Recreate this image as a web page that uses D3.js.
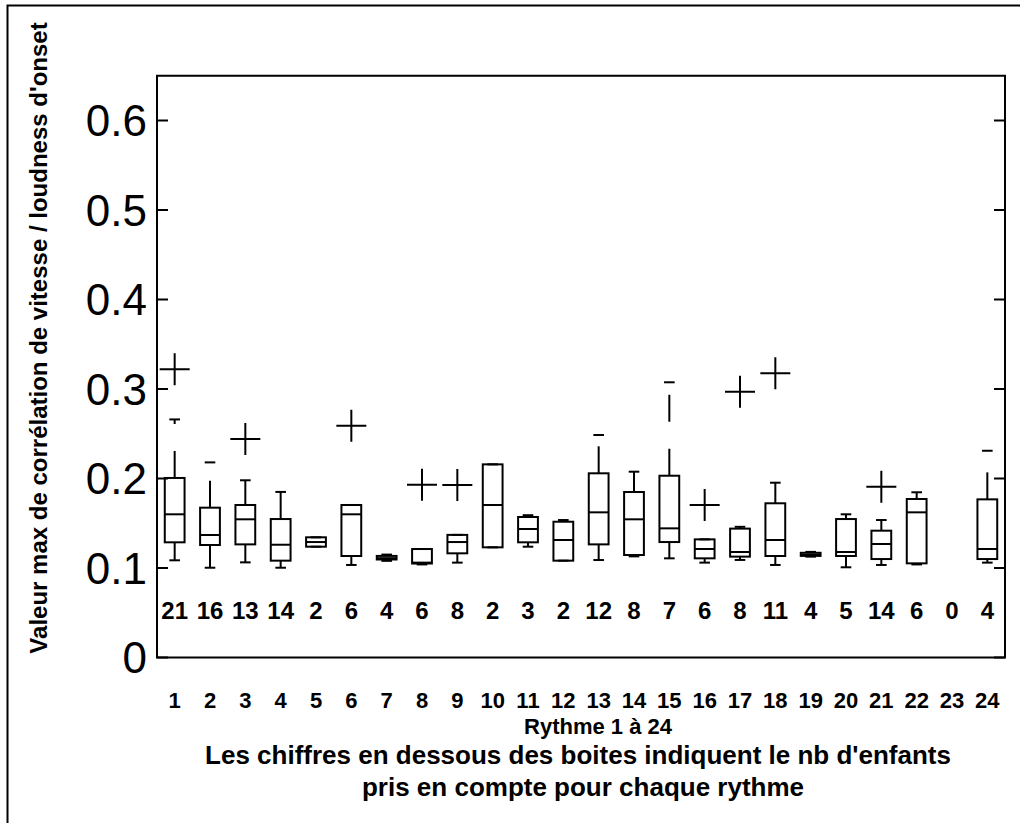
<!DOCTYPE html>
<html>
<head>
<meta charset="utf-8">
<script src="https://d3js.org/d3.v7.min.js"></script>
<style>
  body { margin: 0; background: #fff; }
  text { font-family: "Liberation Sans", Arial, sans-serif; fill: #000; }
</style>
</head>
<body>
<script>
// rythmes 1 a 24
var rythmes = [1,2,3,4,5,6,7,8,9,10,11,12,13,14,15,16,17,18,19,20,21,22,23,24];
var effectifs = [21,16,13,14,2,6,4,6,8,2,3,2,12,8,7,6,8,11,4,5,14,6,0,4];

// stats des boites, null = pas de boite
var q1      = [0.1287,0.1257,0.1264,0.1082,0.1238,0.1134,0.1095,0.1050,0.1164,0.1231,0.1287,0.1082,0.1264,0.1145,0.1290,0.1108,0.1127,0.1134,0.1135,0.1134,0.1100,0.1052,null,0.1100];
var mediane = [0.1600,0.1369,0.1544,0.1260,0.1290,0.1600,0.1110,0.1060,0.1290,0.1704,0.1436,0.1313,0.1622,0.1544,0.1443,0.1212,0.1179,0.1313,0.1150,0.1179,0.1268,0.1622,null,0.1212];
var q3      = [0.2006,0.1674,0.1704,0.1547,0.1343,0.1704,0.1135,0.1212,0.1370,0.2158,0.1570,0.1517,0.2058,0.1849,0.2031,0.1320,0.1440,0.1723,0.1170,0.1547,0.1417,0.1771,null,0.1767];
var moustBas  = [0.1086,0.1003,0.1063,0.1003,0.1238,0.1034,0.1080,0.1040,0.1060,0.1231,0.1238,0.1082,0.1089,0.1130,0.1108,0.1060,0.1090,0.1034,0.1127,0.1008,0.1034,0.1040,null,0.1060];
var moustHaut = [0.2660,0.2180,0.1980,0.1850,0.1343,0.1704,0.1150,0.1212,0.1370,0.2158,0.1590,0.1536,0.2486,0.2076,0.3075,0.1320,0.1460,0.1953,0.1180,0.1600,0.1536,0.1846,null,0.2310];
var aberrants = [[0.322],[],[0.244],[],[],[0.259],[],[0.193],[0.1927],[],[],[],[],[],[],[0.1704],[0.297],[0.3175],[],[],[0.1909],[],[],[]];

var yTicks = [0, 0.1, 0.2, 0.3, 0.4, 0.5, 0.6];

var w = 1020, h = 823;
var svg = d3.select("body").append("svg")
  .attr("width", w)
  .attr("height", h);

svg.append("rect").attr("width", w).attr("height", h).attr("fill", "#fff");

// cadre exterieur (gauche + haut)
svg.append("path")
  .attr("d", "M7.5," + h + "V5.5H" + w)
  .attr("fill", "none").attr("stroke", "#000").attr("stroke-width", 2);

var x = d3.scaleLinear().domain([0.5, 24.5]).range([157, 1005]);
var y = d3.scaleLinear().domain([0, 0.65]).range([657.5, 75.75]);

var g = svg.append("g");

// ticks gauche et droite (vers l'interieur)
g.selectAll(".tl").data(yTicks).enter().append("line")
  .attr("x1", x(0.5)).attr("x2", x(0.5) + 11)
  .attr("y1", d => y(d)).attr("y2", d => y(d))
  .attr("stroke", "#000").attr("stroke-width", 2);
g.selectAll(".tr").data(yTicks).enter().append("line")
  .attr("x1", x(24.5)).attr("x2", x(24.5) - 11)
  .attr("y1", d => y(d)).attr("y2", d => y(d))
  .attr("stroke", "#000").attr("stroke-width", 2);

g.append("rect")
  .attr("x", x(0.5)).attr("y", y(0.65))
  .attr("width", x(24.5) - x(0.5)).attr("height", y(0) - y(0.65))
  .attr("fill", "none").attr("stroke", "#000").attr("stroke-width", 2);

svg.selectAll(".ylab").data(yTicks).enter().append("text")
  .attr("x", 147).attr("y", d => y(d))
  .attr("dy", "0.36em")
  .attr("text-anchor", "end")
  .attr("font-size", 44)
  .text(d => d === 0 ? "0" : d3.format(".1f")(d));

// boites
var bw = x(1.28) - x(1);   // demi-largeur boite
var cw = x(1.15) - x(1);   // demi-largeur moustache

rythmes.forEach(function(r, i) {
  if (q1[i] === null) return;
  var cx = x(r);
  var b = g.append("g");
  // moustaches (pointillees)
  b.append("line")
    .attr("x1", cx).attr("x2", cx)
    .attr("y1", y(q3[i])).attr("y2", y(moustHaut[i]))
    .attr("stroke", "#000").attr("stroke-width", 2)
    .attr("stroke-dasharray", "27,27");
  b.append("line")
    .attr("x1", cx).attr("x2", cx)
    .attr("y1", y(q1[i])).attr("y2", y(moustBas[i]))
    .attr("stroke", "#000").attr("stroke-width", 2)
    .attr("stroke-dasharray", "27,27");
  [moustHaut[i], moustBas[i]].forEach(function(v) {
    b.append("line")
      .attr("x1", cx - cw).attr("x2", cx + cw)
      .attr("y1", y(v)).attr("y2", y(v))
      .attr("stroke", "#000").attr("stroke-width", 2);
  });
  b.append("rect")
    .attr("x", cx - bw).attr("y", y(q3[i]))
    .attr("width", 2 * bw).attr("height", y(q1[i]) - y(q3[i]))
    .attr("fill", "none").attr("stroke", "#000").attr("stroke-width", 2);
  b.append("line")
    .attr("x1", cx - bw).attr("x2", cx + bw)
    .attr("y1", y(mediane[i])).attr("y2", y(mediane[i]))
    .attr("stroke", "#000").attr("stroke-width", 2);
  // valeurs aberrantes '+'
  aberrants[i].forEach(function(v) {
    b.append("path")
      .attr("d", "M" + (cx - 15) + "," + y(v) + "H" + (cx + 15) +
                 "M" + cx + "," + (y(v) - 16) + "V" + (y(v) + 16))
      .attr("stroke", "#000").attr("stroke-width", 2).attr("fill", "none");
  });
});

// nb d'enfants sous les boites
svg.selectAll(".nb").data(rythmes).enter().append("text")
  .attr("x", d => x(d)).attr("y", y(0.05) + 6)
  .attr("text-anchor", "middle")
  .attr("font-size", 24).attr("font-weight", "bold")
  .text((d, i) => effectifs[i]);

// etiquettes x
svg.selectAll(".xlab").data(rythmes).enter().append("text")
  .attr("x", d => x(d)).attr("y", 708)
  .attr("text-anchor", "middle")
  .attr("font-size", 22).attr("font-weight", "bold")
  .text(d => d);

svg.append("text")
  .attr("x", 598).attr("y", 734)
  .attr("text-anchor", "middle")
  .attr("font-size", 22).attr("font-weight", "bold")
  .text("Rythme 1 à 24");
svg.append("text")
  .attr("x", 578).attr("y", 764)
  .attr("text-anchor", "middle")
  .attr("font-size", 26).attr("font-weight", "bold")
  .text("Les chiffres en dessous des boites indiquent le nb d'enfants");
svg.append("text")
  .attr("x", 583).attr("y", 796)
  .attr("text-anchor", "middle")
  .attr("font-size", 26).attr("font-weight", "bold")
  .text("pris en compte pour chaque rythme");

svg.append("text")
  .attr("transform", "translate(47,338) rotate(-90)")
  .attr("text-anchor", "middle")
  .attr("font-size", 24).attr("font-weight", "bold")
  .text("Valeur max de corrélation de vitesse / loudness d'onset");
</script>
</body>
</html>
